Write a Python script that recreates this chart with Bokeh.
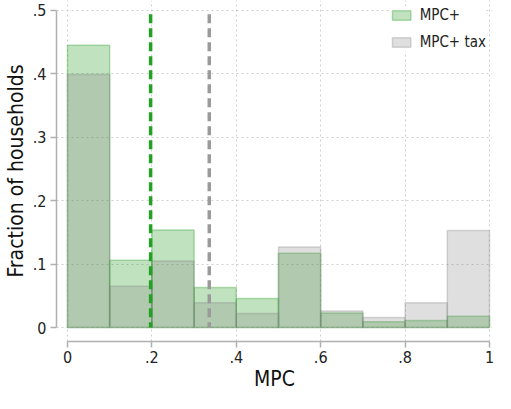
from bokeh.plotting import figure
from bokeh.models import Range1d, FixedTicker, Legend, LegendItem, ColumnDataSource
from bokeh.embed import file_html
from bokeh.resources import INLINE

# ---- data ----
bin_left = [0.0, 0.1, 0.2, 0.3, 0.4, 0.5, 0.6, 0.7, 0.8, 0.9]
bin_right = [0.1, 0.2, 0.3, 0.4, 0.5, 0.6, 0.7, 0.8, 0.9, 1.0]
mpc_plus = [0.445, 0.106, 0.154, 0.063, 0.046, 0.117, 0.023, 0.009, 0.011, 0.018]
mpc_plus_tax = [0.399, 0.065, 0.105, 0.039, 0.022, 0.127, 0.026, 0.016, 0.039, 0.153]
mean_lines_x = [0.197, 0.336]
mean_lines_top = [0.494, 0.494]
mean_lines_bottom = [0.0, 0.0]
mean_colors = ["#24a024", "#9a9a9a"]
x_ticks = [0, 0.2, 0.4, 0.6, 0.8, 1.0]
x_tick_labels = ["0", ".2", ".4", ".6", ".8", "1"]
y_ticks = [0, 0.1, 0.2, 0.3, 0.4, 0.5]
y_tick_labels = ["0", ".1", ".2", ".3", ".4", ".5"]
series_names = ["MPC+", "MPC+ tax"]

FONT = "DejaVu Sans Condensed, Liberation Sans"

p = figure(width=495, height=393, output_backend="svg", toolbar_location=None,
           x_range=Range1d(-0.026, 1.0071), y_range=Range1d(-0.022, 0.5157),
           min_border_left=55, min_border_right=3, min_border_top=0, min_border_bottom=10)
p.outline_line_color = None
p.background_fill_color = "white"
p.border_fill_color = "white"

src_g = ColumnDataSource(dict(left=bin_left, right=bin_right, top=mpc_plus))
src_t = ColumnDataSource(dict(left=bin_left, right=bin_right, top=mpc_plus_tax))

r_g = p.quad(left="left", right="right", top="top", bottom=0, source=src_g,
             fill_color="#2ea02c", fill_alpha=0.3, line_color="#2ea02c", line_alpha=0.35, line_width=1.5)
r_t = p.quad(left="left", right="right", top="top", bottom=0, source=src_t,
             fill_color="#808080", fill_alpha=0.25, line_color="#808080", line_alpha=0.3, line_width=1.5)

src_m = ColumnDataSource(dict(x0=mean_lines_x, y0=mean_lines_top, x1=mean_lines_x, y1=mean_lines_bottom,
                              c=mean_colors))
p.segment(x0="x0", y0="y0", x1="x1", y1="y1", color="c", line_width=3.5, line_dash="9 5", source=src_m)

# axes
for ax, ticks, labels, bounds in ((p.xaxis[0], x_ticks, x_tick_labels, (0, 1)),
                                  (p.yaxis[0], y_ticks, y_tick_labels, (0, 0.5))):
    ax.ticker = FixedTicker(ticks=ticks)
    ax.major_label_overrides = {t: l for t, l in zip(ticks, labels)}
    ax.bounds = bounds
    ax.axis_line_color = "#b0b0b0"
    ax.axis_line_width = 1.5
    ax.major_tick_line_color = "#b0b0b0"
    ax.major_tick_line_width = 1.5
    ax.major_tick_out = 6
    ax.major_tick_in = 0
    ax.minor_tick_line_color = None
    ax.major_label_text_font = FONT
    ax.major_label_text_font_size = "16px"
    ax.major_label_text_color = "#222222"
    ax.axis_label_text_font = FONT
    ax.axis_label_text_font_size = "21px"
    ax.axis_label_text_font_style = "normal"
    ax.axis_label_text_color = "#111111"

p.xaxis.axis_label = "MPC"
p.yaxis.axis_label = "Fraction of households"
p.xaxis.major_label_standoff = 3
p.yaxis.major_label_standoff = 4
p.xaxis.axis_label_standoff = 1
p.yaxis.axis_label_standoff = 2
p.yaxis.major_label_orientation = "horizontal"

p.xgrid.ticker = FixedTicker(ticks=x_ticks)
p.ygrid.ticker = FixedTicker(ticks=y_ticks)
for g in (p.xgrid[0], p.ygrid[0]):
    g.grid_line_color = "#cfcfcf"
    g.grid_line_dash = "2 3"
    g.grid_line_width = 1

legend = Legend(items=[LegendItem(label=series_names[0], renderers=[r_g]),
                       LegendItem(label=series_names[1], renderers=[r_t])],
                location="top_right", orientation="vertical")
legend.glyph_width = 23
legend.glyph_height = 12
legend.label_height = 12
legend.spacing = 9
legend.padding = 5
legend.margin = 6
legend.label_standoff = 7
legend.label_text_font = FONT
legend.label_text_font_size = "15px"
legend.label_text_color = "#222222"
legend.border_line_color = None
legend.background_fill_color = "white"
legend.background_fill_alpha = 1.0
p.add_layout(legend)

open("out.html", "w").write(file_html(p, INLINE))
